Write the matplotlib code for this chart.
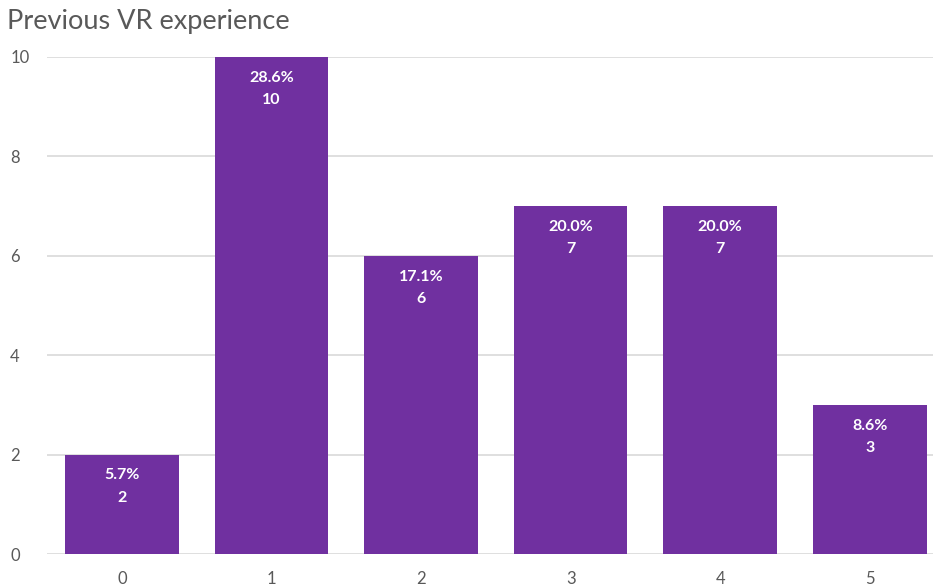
import matplotlib
matplotlib.use('Agg')
import matplotlib.pyplot as plt
import numpy as np

plt.rcParams['font.family'] = ['Lato', 'DejaVu Sans']

categories = ['0', '1', '2', '3', '4', '5']
counts = [2, 10, 6, 7, 7, 3]
percents = ['5.7%', '28.6%', '17.1%', '20.0%', '20.0%', '8.6%']

bar_color = '#7030A0'
grid_color = '#D9D9D9'
text_color = '#595959'

fig = plt.figure(figsize=(9.33, 5.87), dpi=100)
ax = fig.add_axes([0.0504, 0.0562, 0.9496, 0.8468])

x = np.arange(len(categories))
bars = ax.bar(x, counts, width=0.76, color=bar_color, zorder=3)

# percentage and count stacked inside the top of each bar
for bar, pct, n in zip(bars, percents, counts):
    cx = bar.get_x() + bar.get_width() / 2
    top = bar.get_height()
    ax.annotate(pct, (cx, top), xytext=(0, -15), textcoords='offset points',
                ha='center', va='center', color='white', fontsize=11.5, fontweight='bold')
    ax.annotate(str(n), (cx, top), xytext=(0, -31), textcoords='offset points',
                ha='center', va='center', color='white', fontsize=11.5, fontweight='bold')

ax.set_xlim(-0.5, -0.5 + 886 / 149.6)
ax.set_ylim(0, 10)
ax.set_yticks([0, 2, 4, 6, 8, 10])
ax.set_xticks(x)
ax.set_xticklabels(categories)
ax.grid(axis='y', color=grid_color, linewidth=1.2, zorder=0)
for s in ax.spines.values():
    s.set_visible(False)
ax.tick_params(length=0, labelsize=12, labelcolor=text_color)
ax.tick_params(axis='y', pad=26.5)
ax.tick_params(axis='x', pad=12)
for lbl in ax.get_yticklabels():
    lbl.set_horizontalalignment('left')

fig.text(0.008, 0.963, 'Previous VR experience', fontsize=19.5, color=text_color,
         ha='left', va='center')

fig.savefig('out.png', dpi=100)
